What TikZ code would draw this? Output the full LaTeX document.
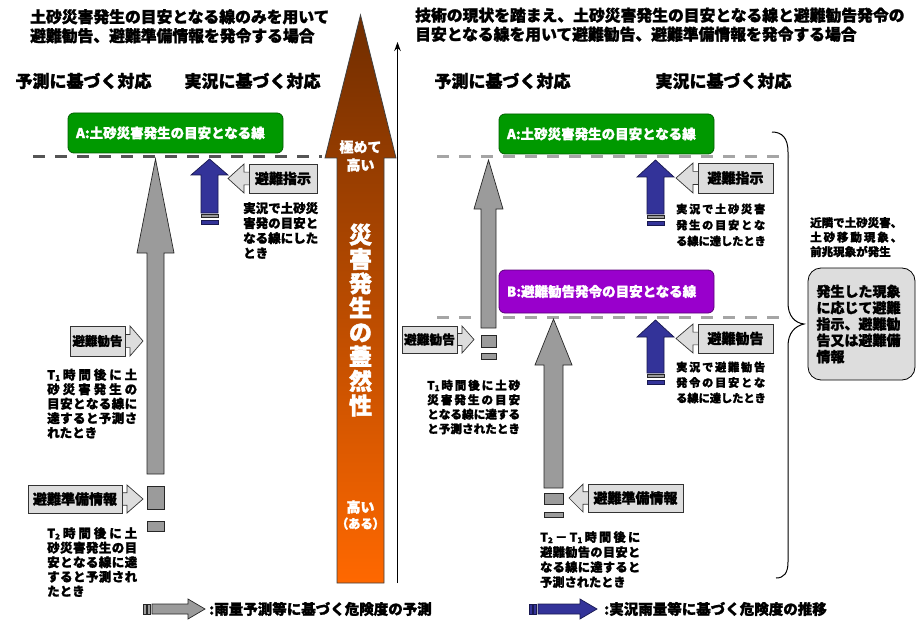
\documentclass[tikz,border=0pt]{standalone}
\usepackage{fontspec}
\newfontfamily\jp[BoldFeatures={FakeBold=1.6}]{Noto Sans CJK JP}
\usetikzlibrary{arrows.meta}
\definecolor{grnA}{RGB}{0,153,0}
\definecolor{grnD}{RGB}{0,95,0}
\definecolor{purB}{RGB}{153,0,204}
\definecolor{purD}{RGB}{90,0,120}
\definecolor{bluA}{RGB}{51,51,153}
\definecolor{bluD}{RGB}{25,25,80}
\definecolor{gryA}{RGB}{155,155,155}
\definecolor{lgry}{RGB}{221,221,221}
\definecolor{dashL}{RGB}{85,85,85}
\definecolor{dashR}{RGB}{165,165,165}
\definecolor{brnT}{RGB}{112,45,0}
\definecolor{brnB}{RGB}{255,104,0}
\makeatletter
\def\sp@stop{\sp@end}
\newcommand\spl[2]{\makebox[#1][s]{\sp@first#2\sp@end}}
\def\sp@first#1{#1\sp@loop}
\def\sp@loop#1{\def\sp@tmp{#1}\ifx\sp@tmp\sp@stop\else\hfil#1\expandafter\sp@loop\fi}
\makeatother
\newcommand\mysub[1]{\raisebox{-0.12em}{\fontsize{8}{8}\selectfont #1}}
% right-pointing callout: name,x1,y1,x2,y2,tip,content
\newcommand\callR[7]{%
 \filldraw[lblc] (#4,{(#3+#5)/2-(#5-#3)*0.22}) -- ({#4+5},{(#3+#5)/2-(#5-#3)*0.22}) -- ({#4+5},#3) -- (#6,{(#3+#5)/2}) -- ({#4+5},#5) -- ({#4+5},{(#3+#5)/2+(#5-#3)*0.22}) -- (#4,{(#3+#5)/2+(#5-#3)*0.22});
 \node[lblbox, minimum width={(#4-#2)*1pt}, minimum height={(#5-#3)*1pt}] (#1) at ({(#2+#4)/2},{(#3+#5)/2}) {#7};}
% left-pointing callout
\newcommand\callL[7]{%
 \filldraw[lblc] (#2,{(#3+#5)/2-(#5-#3)*0.22}) -- ({#2-5},{(#3+#5)/2-(#5-#3)*0.22}) -- ({#2-5},#3) -- (#6,{(#3+#5)/2}) -- ({#2-5},#5) -- ({#2-5},{(#3+#5)/2+(#5-#3)*0.22}) -- (#2,{(#3+#5)/2+(#5-#3)*0.22});
 \node[lblbox, minimum width={(#4-#2)*1pt}, minimum height={(#5-#3)*1pt}] (#1) at ({(#2+#4)/2},{(#3+#5)/2}) {#7};}
\begin{document}
\begin{tikzpicture}[x=1pt,y=-1pt,
  fs/.style 2 args={font=\jp\bfseries\fontsize{#1}{#2}\selectfont},
  txt/.style={inner sep=0pt, align=left, anchor=north west},
  lblbox/.style={draw=black!80, fill=lgry, line width=0.7pt, inner sep=0pt, font=\jp\bfseries},
  lblc/.style={draw=black!80, fill=lgry, line width=0.7pt, line join=miter},
  garr/.style={draw=black!85, fill=gryA, line width=0.7pt},
  barr/.style={draw=bluD, fill=bluA, line width=0.7pt},
  linebox/.style={rounded corners=6pt, inner xsep=8pt, inner ysep=0pt, text width=199pt, align=left, text=white, line width=0.8pt, minimum height=40pt},
  dashl/.style={line width=3pt, dash pattern=on 12pt off 10pt}
]
\useasboundingbox (0,0) rectangle (924,623);

% titles
\node[txt, fs={15.8}{19}] (tl) at (30,9) {土砂災害発生の目安となる線のみを用いて\\避難勧告、避難準備情報を発令する場合};
\node[txt, fs={15.8}{19}] (tr) at (415,7.5) {技術の現状を踏まえ、土砂災害発生の目安となる線と避難勧告発令の\\目安となる線を用いて避難勧告、避難準備情報を発令する場合};
\node[inner sep=0pt, fs={17}{17}] (h1) at (83.5,81) {予測に基づく対応};
\node[inner sep=0pt, fs={17}{17}] (h2) at (252.5,81) {実況に基づく対応};
\node[inner sep=0pt, fs={17}{17}] (h3) at (502.5,81) {予測に基づく対応};
\node[inner sep=0pt, fs={17}{17}] (h4) at (723.5,81) {実況に基づく対応};

% ===== left panel =====
\node[linebox, fill=grnA, draw=grnD, fs={13.5}{13.5}] (A1) at (175.5,133) {A:土砂災害発生の目安となる線};
\coordinate (dl1) at (33,157); \coordinate (dl2) at (322,157);
\draw[dashl, draw=dashL] (dl1) -- (dl2);

\draw[garr] (147,474) -- (147,253) -- (137,253) -- (155.5,159) -- (174,253) -- (164,253) -- (164,474) -- cycle;
\draw[garr] (147,486) rectangle (164,509);
\draw[garr] (147,521) rectangle (164,531);

\draw[barr] (201,213) -- (201,175) -- (191,175) -- (209.5,159) -- (228,175) -- (218,175) -- (218,213) -- cycle;
\draw[garr] (201,214.5) rectangle (218,217.5);
\draw[barr] (201,220) rectangle (218,224);

\callR{cl1}{70}{326}{125}{356}{143}{\fontsize{12.5}{12.5}\selectfont 避難勧告}
\callR{cl2}{28}{485}{122}{513}{143}{\fontsize{14}{14}\selectfont 避難準備情報}
\callL{cl3}{249}{164}{317}{193}{228}{\fontsize{14}{14}\selectfont 避難指示}

\node[txt, fs={12.5}{15}] (tx1) at (243,202) {実況で土砂災\\害発の目安と\\なる線にした\\とき};
\node[txt, fs={12.5}{14.5}] (tx2) at (47,368.5) {\spl{90pt}{{T\mysub{1}}時間後に土}\\\spl{90pt}{砂災害発生の}\\\spl{90pt}{目安となる線に}\\\spl{90pt}{達すると予測さ}\\れたとき};
\node[txt, fs={12.5}{14.5}] (tx3) at (47,527) {\spl{90pt}{{T\mysub{2}}時間後に土}\\\spl{90pt}{砂災害発生の目}\\\spl{90pt}{安となる線に達}\\\spl{90pt}{すると予測され}\\たとき};

% ===== centre =====
\shadedraw[top color=brnT, bottom color=brnB, draw=black!75, line width=0.8pt] (337,583) -- (337,158) -- (325,158) -- (360.5,15) -- (396,158) -- (384,158) -- (384,583) -- cycle;
\node[inner sep=0pt, align=center, text=white, fs={14}{18}] (c1) at (360.5,156) {極めて\\高い};
\node[inner sep=0pt, align=center, text=white, fs={23}{24.4}] (c2) at (360.5,320) {災\\害\\発\\生\\の\\蓋\\然\\性};
\node[inner sep=0pt, align=center, text=white, fs={14}{16}] (c3) at (360.5,515) {高い\\{\fontsize{12.5}{16}\selectfont（\kern-0.5pt ある\kern-0.5pt ）}};
\coordinate (ab) at (397.5,583); \coordinate (at) at (397.5,42);
\draw[line width=1.3pt, -{Stealth[length=9pt,width=6.5pt]}] (ab) -- (at);

% ===== right panel =====
\node[linebox, fill=grnA, draw=grnD, fs={13.5}{13.5}] (A2) at (606.5,134) {A:土砂災害発生の目安となる線};
\node[linebox, fill=purB, draw=purD, fs={13.5}{13.5}, minimum height=43pt] (B2) at (606.5,291.5) {B:避難勧告発令の目安となる線};
\coordinate (dr1) at (437,157); \coordinate (dr2) at (789,157);
\coordinate (dr3) at (437,317); \coordinate (dr4) at (789,317);
\draw[dashl, draw=dashR] (dr1) -- (dr2);
\draw[dashl, draw=dashR] (dr3) -- (dr4);

\draw[garr] (481,328) -- (481,209) -- (474,209) -- (488.5,160) -- (503,209) -- (496,209) -- (496,328) -- cycle;
\draw[garr] (481,335) rectangle (496,347);
\draw[garr] (481,353) rectangle (496,359);

\draw[garr] (544,488) -- (544,365) -- (535,365) -- (553.5,319) -- (572,365) -- (563,365) -- (563,488) -- cycle;
\draw[garr] (544,493) rectangle (563,504);
\draw[garr] (544,512) rectangle (563,517);

\draw[barr] (647,214) -- (647,177) -- (637,177) -- (655.5,160) -- (674,177) -- (664,177) -- (664,214) -- cycle;
\draw[garr] (647,215.5) rectangle (664,218.5);
\draw[barr] (647,221) rectangle (664,225);

\draw[barr] (647,373) -- (647,337) -- (637,337) -- (655.5,320) -- (674,337) -- (664,337) -- (664,373) -- cycle;
\draw[garr] (647,374.5) rectangle (664,377.5);
\draw[barr] (647,380) rectangle (664,384);

\callR{cr1}{402}{326}{457}{353}{474}{\fontsize{12.7}{12.7}\selectfont 避難勧告}
\callL{cr2}{698}{163}{773}{193}{676}{\fontsize{14}{14}\selectfont 避難指示}
\callL{cr3}{698}{324}{773}{353}{676}{\fontsize{14}{14}\selectfont 避難勧告}
\callL{cr4}{588}{484}{683}{512}{569}{\fontsize{14}{14}\selectfont 避難準備情報}

\node[txt, fs={11.6}{14.5}] (rx1) at (427,379.5) {\spl{93pt}{{T\mysub{1}}時間後に土砂}\\\spl{93pt}{災害発生の目安}\\\spl{93pt}{となる線に達する}\\と予測されたとき};
\node[txt, fs={12.2}{15}] (rx2) at (540,531) {\spl{100pt}{{T\mysub{2}}－{T\mysub{1}}時間後に}\\\spl{100pt}{避難勧告の目安と}\\\spl{100pt}{なる線に達すると}\\予測されたとき};
\node[txt, fs={11.2}{16}] (rx3) at (676,203.5) {\spl{89pt}{実況で土砂災害}\\\spl{89pt}{発生の目安とな}\\る線に達したとき};
\node[txt, fs={11.2}{15.5}] (rx4) at (676,361.5) {\spl{89pt}{実況で避難勧告}\\\spl{89pt}{発令の目安とな}\\る線に達したとき};

\coordinate (br1) at (772,132); \coordinate (br2) at (776,578);
\draw[line width=1pt] (br1) .. controls (782,132) and (788,138) .. (788,152) -- (788,303) .. controls (788,316) and (795,323) .. (804,324) .. controls (795,326) and (788,333) .. (788,346) -- (788,562) .. controls (788,573) and (784,578) .. (br2);

\node[txt, fs={11.5}{14.5}] (rx5) at (810,217) {\spl{92pt}{近隣で土砂災害、}\\\spl{92pt}{土砂移動現象、}\\前兆現象が発生};
\node[draw=black, fill=lgry, rounded corners=13pt, line width=0.8pt, minimum width=107pt, minimum height=112pt, inner sep=0pt, text width=90pt, align=left, fs={14}{16.3}] (rb) at (861.5,324) {発生した現象\\に応じて避難\\指示、避難勧\\告又は避難備\\情報};

% ===== legend =====
\draw[garr] (143,604) rectangle (146,614);
\draw[garr] (147.5,604) rectangle (150.5,614);
\draw[garr] (152,604) -- (188,604) -- (188,599) -- (205,609) -- (188,619) -- (188,614) -- (152,614) -- cycle;
\node[inner sep=0pt, anchor=west, fs={14.5}{14.5}] (lg1) at (209,609) {:雨量予測等に基づく危険度の予測};
\draw[barr] (529,604) rectangle (532,614);
\draw[barr] (533.5,604) rectangle (536.5,614);
\draw[barr] (538,604) -- (580,604) -- (580,599) -- (597,609) -- (580,619) -- (580,614) -- (538,614) -- cycle;
\node[inner sep=0pt, anchor=west, fs={14.5}{14.5}] (lg2) at (604,609) {:実況雨量等に基づく危険度の推移};
\end{tikzpicture}
\end{document}
